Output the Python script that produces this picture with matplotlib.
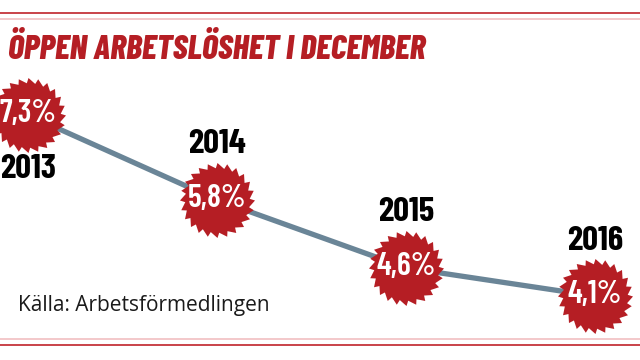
import numpy as np
import matplotlib.pyplot as plt
from matplotlib.path import Path
from matplotlib.lines import Line2D

# data
years = [2013, 2014, 2015, 2016]
rate = [7.3, 5.8, 4.6, 4.1]
rate_labels = ['7,3%', '5,8%', '4,6%', '4,1%']
year_pos = ['below', 'above', 'above', 'above']

title = 'ÖPPEN ARBETSLÖSHET I DECEMBER'
source = 'Källa: Arbetsförmedlingen'

red = '#b51e24'
line_col = '#6a8597'
cond = ['Barlow Condensed', 'DejaVu Sans']


def saw_marker(n=24, inner=0.86):
    # circular saw blade outline
    verts = []
    step = 2 * np.pi / n
    for i in range(n):
        a = i * step
        verts.append((np.cos(a), np.sin(a)))
        b = a + step * 0.2
        verts.append((inner * np.cos(b), inner * np.sin(b)))
    verts.append(verts[0])
    codes = [Path.MOVETO] + [Path.LINETO] * (len(verts) - 2) + [Path.CLOSEPOLY]
    return Path(verts, codes)


fig = plt.figure(figsize=(6.4, 3.6), dpi=100)
ax = fig.add_axes([0, 0, 1, 1])
ax.set_xlim(2012.852, 2016.238)
ax.set_ylim(2.971, 9.332)
ax.axis('off')

ax.plot(years, rate, color=line_col, lw=3.8, zorder=1, solid_capstyle='butt')
ax.plot(years, rate, linestyle='none', marker=saw_marker(), markersize=54,
        markerfacecolor=red, markeredgecolor=red, markeredgewidth=0, zorder=2)

for x, y, lab, yl, pos in zip(years, rate, rate_labels, years, year_pos):
    ax.text(x, y + 0.02, lab, ha='center', va='center', color='white',
            fontsize=23, fontweight='semibold', family=cond, zorder=3)
    dy = -39 if pos == 'below' else 40
    ax.annotate(str(yl), (x, y), xytext=(0, dy), textcoords='offset points',
                ha='center', va='center', fontsize=25, fontweight='bold',
                family=cond, color='black')

fig.text(0.012, 1 - 49 / 360, title, ha='left', va='center', color=red,
         fontsize=24.5, fontweight='heavy', fontstyle='italic', family=cond)
fig.text(0.028, 1 - 305 / 360, source, ha='left', va='center', color='#1a1a1a',
         fontsize=15, family=['Open Sans', 'DejaVu Sans'])

# decorative rules top and bottom
for ypx, col in [(13, '#c5343a'), (19, '#f2c4c6'), (339, '#f2c4c6'), (345, '#c5343a')]:
    yf = 1 - ypx / 360
    fig.add_artist(Line2D([0, 1], [yf, yf], color=col, lw=1.3,
                          transform=fig.transFigure))

fig.savefig('out.png', dpi=100)
